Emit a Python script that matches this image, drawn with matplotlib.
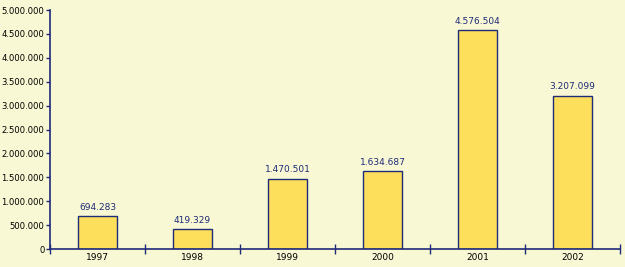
import matplotlib
matplotlib.use("Agg")
import matplotlib.pyplot as plt
import matplotlib.ticker as ticker
import numpy as np

years = ["1997", "1998", "1999", "2000", "2001", "2002"]
values = [694283, 419329, 1470501, 1634687, 4576504, 3207099]

BG = "#f8f8d4"
BAR = "#fddf5c"
NAVY = "#1f2a78"


def dotted(v, pos=None):
    return "{:,}".format(int(v)).replace(",", ".")


fig = plt.figure(figsize=(6.25, 2.67), dpi=100, facecolor=BG)
ax = fig.add_axes([0.08, 0.0674, 0.912, 0.895], facecolor=BG)

x = np.arange(len(years))
ax.bar(x, values, width=0.42, color=BAR, edgecolor=NAVY, linewidth=1.0, zorder=2)
for xi, v in zip(x, values):
    ax.text(xi, v + 90000, dotted(v), ha="center", va="bottom",
            fontsize=6.5, color=NAVY)

ax.set_xlim(-0.5, len(years) - 0.5)
ax.set_ylim(0, 5000000)
ax.yaxis.set_major_locator(ticker.MultipleLocator(500000))
ax.yaxis.set_major_formatter(ticker.FuncFormatter(dotted))

# ticks on category boundaries, labels centred
ax.set_xticks(np.arange(len(years) + 1) - 0.5)
ax.set_xticklabels([])
ax.set_xticks(x, minor=True)
ax.set_xticklabels(years, minor=True)
ax.tick_params(axis="x", which="major", direction="inout", length=7,
               color=NAVY, width=1)
ax.tick_params(axis="x", which="minor", length=0, labelsize=6.5, pad=3)
ax.tick_params(axis="y", direction="out", length=3, color=NAVY, width=1,
               labelsize=6.1, pad=1)

for s in ["top", "right"]:
    ax.spines[s].set_visible(False)
for s in ["left", "bottom"]:
    ax.spines[s].set_color(NAVY)
    ax.spines[s].set_linewidth(1.2)

fig.savefig("out.png", dpi=100, facecolor=BG)
